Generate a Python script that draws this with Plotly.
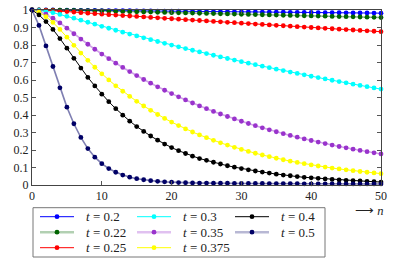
import plotly.graph_objects as go

n_values = list(range(51))

t_labels = ["0.2", "0.22", "0.25", "0.3", "0.35", "0.375", "0.4", "0.5"]

y_t020 = [1.000, 1.000, 1.000, 1.000, 0.9995, 0.999, 0.9985, 0.998, 0.998, 0.9975,
          0.997, 0.9967, 0.9963, 0.996, 0.9956, 0.9952, 0.9948, 0.9944, 0.9941, 0.9937,
          0.9933, 0.9929, 0.9926, 0.9922, 0.9918, 0.9914, 0.991, 0.9907, 0.9903, 0.9899,
          0.9895, 0.9892, 0.9888, 0.9884, 0.988, 0.9876, 0.9873, 0.9869, 0.9865, 0.9861,
          0.9858, 0.9854, 0.985, 0.9846, 0.9843, 0.9839, 0.9835, 0.9831, 0.9828, 0.9824,
          0.982]
y_t022 = [1.000, 1.000, 0.9998, 0.9995, 0.999, 0.9984, 0.9977, 0.997, 0.9962, 0.9954,
          0.9945, 0.9936, 0.9926, 0.9917, 0.9907, 0.9898, 0.9888, 0.9879, 0.9869, 0.986,
          0.985, 0.9841, 0.9831, 0.9822, 0.9813, 0.9803, 0.9794, 0.9784, 0.9775, 0.9766,
          0.9756, 0.9747, 0.9738, 0.9728, 0.9719, 0.971, 0.970, 0.9691, 0.9682, 0.9672,
          0.9663, 0.9654, 0.9645, 0.9635, 0.9626, 0.9617, 0.9608, 0.9599, 0.9589, 0.958,
          0.9571]
y_t025 = [1.000, 0.9995, 0.998, 0.996, 0.9935, 0.991, 0.988, 0.985, 0.982, 0.979,
          0.976, 0.9734, 0.9708, 0.9682, 0.9656, 0.963, 0.9604, 0.9578, 0.9552, 0.9526,
          0.9501, 0.9475, 0.945, 0.9424, 0.9399, 0.9374, 0.9348, 0.9323, 0.9298, 0.9273,
          0.9248, 0.9223, 0.9198, 0.9173, 0.9148, 0.9124, 0.9099, 0.9075, 0.905, 0.9026,
          0.9001, 0.8977, 0.8953, 0.8928, 0.8904, 0.888, 0.8856, 0.8832, 0.8808, 0.8785,
          0.8761]
y_t030 = [1.000, 0.998, 0.993, 0.985, 0.975, 0.964, 0.953, 0.942, 0.930, 0.919,
          0.907, 0.8956, 0.8844, 0.8734, 0.8624, 0.8516, 0.841, 0.8304, 0.82, 0.8098,
          0.7996, 0.7896, 0.7797, 0.770, 0.7603, 0.7508, 0.7414, 0.7321, 0.723, 0.7139,
          0.705, 0.6961, 0.6874, 0.6788, 0.6703, 0.6619, 0.6536, 0.6455, 0.6374, 0.6294,
          0.6215, 0.6137, 0.606, 0.5985, 0.591, 0.5836, 0.5763, 0.569, 0.5619, 0.5549,
          0.5479]
y_t035 = [1.000, 0.993, 0.976, 0.953, 0.926, 0.896, 0.8643, 0.8338, 0.8043, 0.7758,
          0.7484, 0.722, 0.6964, 0.6718, 0.648, 0.6251, 0.603, 0.5817, 0.5611, 0.5413,
          0.5222, 0.5037, 0.4859, 0.4687, 0.4521, 0.4361, 0.4207, 0.4058, 0.3915, 0.3777,
          0.3643, 0.3514, 0.339, 0.327, 0.3154, 0.3043, 0.2935, 0.2832, 0.2731, 0.2635,
          0.2542, 0.2452, 0.2365, 0.2281, 0.2201, 0.2123, 0.2048, 0.1975, 0.1906, 0.1838,
          0.1773]
y_t0375 = [1.000, 0.988, 0.962, 0.929, 0.889, 0.845, 0.7982, 0.754, 0.7122, 0.6728,
           0.6355, 0.6003, 0.567, 0.5356, 0.506, 0.4779, 0.4515, 0.4265, 0.4028, 0.3805,
           0.3594, 0.3395, 0.3207, 0.303, 0.2862, 0.2703, 0.2554, 0.2412, 0.2279, 0.2152,
           0.2033, 0.192, 0.1814, 0.1714, 0.1619, 0.1529, 0.1444, 0.1364, 0.1289, 0.1217,
           0.115, 0.1086, 0.1026, 0.0969, 0.0916, 0.0865, 0.0817, 0.0772, 0.0729, 0.0689,
           0.065]
y_t040 = [1.000, 0.972, 0.934, 0.889, 0.837, 0.782, 0.724, 0.668, 0.615, 0.566,
          0.519, 0.476, 0.436, 0.399, 0.365, 0.334, 0.306, 0.280, 0.256, 0.234,
          0.214, 0.196, 0.180, 0.165, 0.151, 0.141, 0.130, 0.120, 0.110, 0.102,
          0.094, 0.087, 0.080, 0.074, 0.068, 0.062, 0.057, 0.053, 0.048, 0.044,
          0.041, 0.038, 0.035, 0.032, 0.029, 0.027, 0.025, 0.023, 0.021, 0.019,
          0.017]
y_t050 = [1.000, 0.912, 0.795, 0.677, 0.555, 0.445, 0.350, 0.272, 0.208, 0.159,
          0.122, 0.094, 0.073, 0.057, 0.045, 0.036, 0.030, 0.025, 0.021, 0.018,
          0.016, 0.014, 0.013, 0.012, 0.011, 0.011, 0.010, 0.010, 0.010, 0.009,
          0.009, 0.009, 0.009, 0.009, 0.008, 0.008, 0.008, 0.008, 0.008, 0.007,
          0.007, 0.007, 0.007, 0.007, 0.007, 0.006, 0.006, 0.006, 0.006, 0.006,
          0.006]

series = [y_t020, y_t022, y_t025, y_t030, y_t035, y_t0375, y_t040, y_t050]

x_tick_vals = [0, 10, 20, 30, 40, 50]
x_tick_text = ["0", "10", "20", "30", "40", "50"]
y_tick_vals = [0, 0.1, 0.2, 0.3, 0.4, 0.5, 0.6, 0.7, 0.8, 0.9, 1]
y_tick_text = ["0", "0.1", "0.2", "0.3", "0.4", "0.5", "0.6", "0.7", "0.8", "0.9", "1"]

marker_colors = ["#0000ff", "#006400", "#ff0000", "#00ffff", "#9933cc", "#ffff00", "#000000", "#000066"]
line_colors = ["#0000ff", "rgba(0,100,0,0.45)", "#ff0000", "#00ffff",
               "rgba(153,51,204,0.45)", "#ffff00", "#000000", "rgba(0,0,102,0.5)"]
line_widths = [1, 1.6, 1, 1, 1.6, 1, 1, 1.6]
legend_line_colors = ["#0000ff", "rgba(0,100,0,0.3)", "#ff0000", "#00ffff",
                      "rgba(153,51,204,0.3)", "#ffff00", "#000000", "rgba(0,0,102,0.28)"]
legend_line_widths = [1, 2.6, 1, 1, 2.6, 1, 1, 2.6]
# legend grid position (column, row) of each series
legend_col = [0, 0, 0, 1, 1, 1, 2, 2]
legend_row = [0, 1, 2, 0, 1, 2, 0, 1]

FONT = "Liberation Serif, Times New Roman, serif"

# figure geometry (pixels)
W, H = 399, 258
ML, MR, MT, MB = 32, 18, 10, 73
PW, PH = W - ML - MR, H - MT - MB


def px(xp):
    return (xp - ML) / PW


def py(yp):
    return (H - MB - yp) / PH


fig = go.Figure()
for lab, ys, mc, lc, lw in zip(t_labels, series, marker_colors, line_colors, line_widths):
    fig.add_trace(go.Scatter(
        x=n_values, y=ys, mode="lines+markers",
        name="t = " + lab,
        line=dict(color=lc, width=lw),
        marker=dict(color=mc, size=4.8, line=dict(width=0)),
        cliponaxis=False,
        showlegend=False,
    ))

# legend drawn as a boxed 3-column grid below the plot
shapes = [dict(type="rect", xref="paper", yref="paper",
               x0=px(33), x1=px(325), y0=py(257), y1=py(207.7),
               line=dict(color="#777777", width=1), fillcolor="white", layer="above")]
annotations = []
col_x = [40, 137, 235]
row_y = [216.7, 232.2, 247.7]
r = 2.4
for lab, mc, lc, lw, c, rr in zip(t_labels, marker_colors, legend_line_colors, legend_line_widths,
                                  legend_col, legend_row):
    x0 = col_x[c]
    yc = row_y[rr]
    shapes.append(dict(type="line", xref="paper", yref="paper",
                       x0=px(x0), x1=px(x0 + 34), y0=py(yc), y1=py(yc),
                       line=dict(color=lc, width=lw), layer="above"))
    shapes.append(dict(type="circle", xref="paper", yref="paper",
                       x0=px(x0 + 17 - r), x1=px(x0 + 17 + r), y0=py(yc + r), y1=py(yc - r),
                       line=dict(width=0), fillcolor=mc, layer="above"))
    annotations.append(dict(xref="paper", yref="paper", x=px(x0 + 44), y=py(yc),
                            xanchor="left", yanchor="middle", showarrow=False,
                            text="<i>t</i> = " + lab,
                            font=dict(family=FONT, size=13, color="#222222")))

annotations.append(dict(
    xref="paper", yref="paper", x=px(383.5), y=py(211), xanchor="right", yanchor="middle",
    text="⟶ <i>n</i>", showarrow=False, borderpad=0,
    font=dict(family=FONT, size=12.5, color="#222222"),
))

axis_common = dict(
    showgrid=False, zeroline=False, showline=True, linecolor="#444444", linewidth=1,
    mirror="allticks", ticks="inside", ticklen=4, tickcolor="#555555", tickwidth=1,
    tickfont=dict(family=FONT, size=12, color="#222222"),
)

fig.update_layout(
    width=W, height=H,
    margin=dict(l=ML, r=MR, t=MT, b=MB, autoexpand=False),
    paper_bgcolor="white", plot_bgcolor="white",
    xaxis=dict(range=[0, 50], tickmode="array", tickvals=x_tick_vals, ticktext=x_tick_text, **axis_common),
    yaxis=dict(range=[0, 1], tickmode="array", tickvals=y_tick_vals, ticktext=y_tick_text, **axis_common),
    showlegend=False,
    shapes=shapes,
    annotations=annotations,
)

fig.write_html("out.html", config={"displayModeBar": False},
               post_script="document.body.style.margin='0';document.body.style.overflow='hidden';")
